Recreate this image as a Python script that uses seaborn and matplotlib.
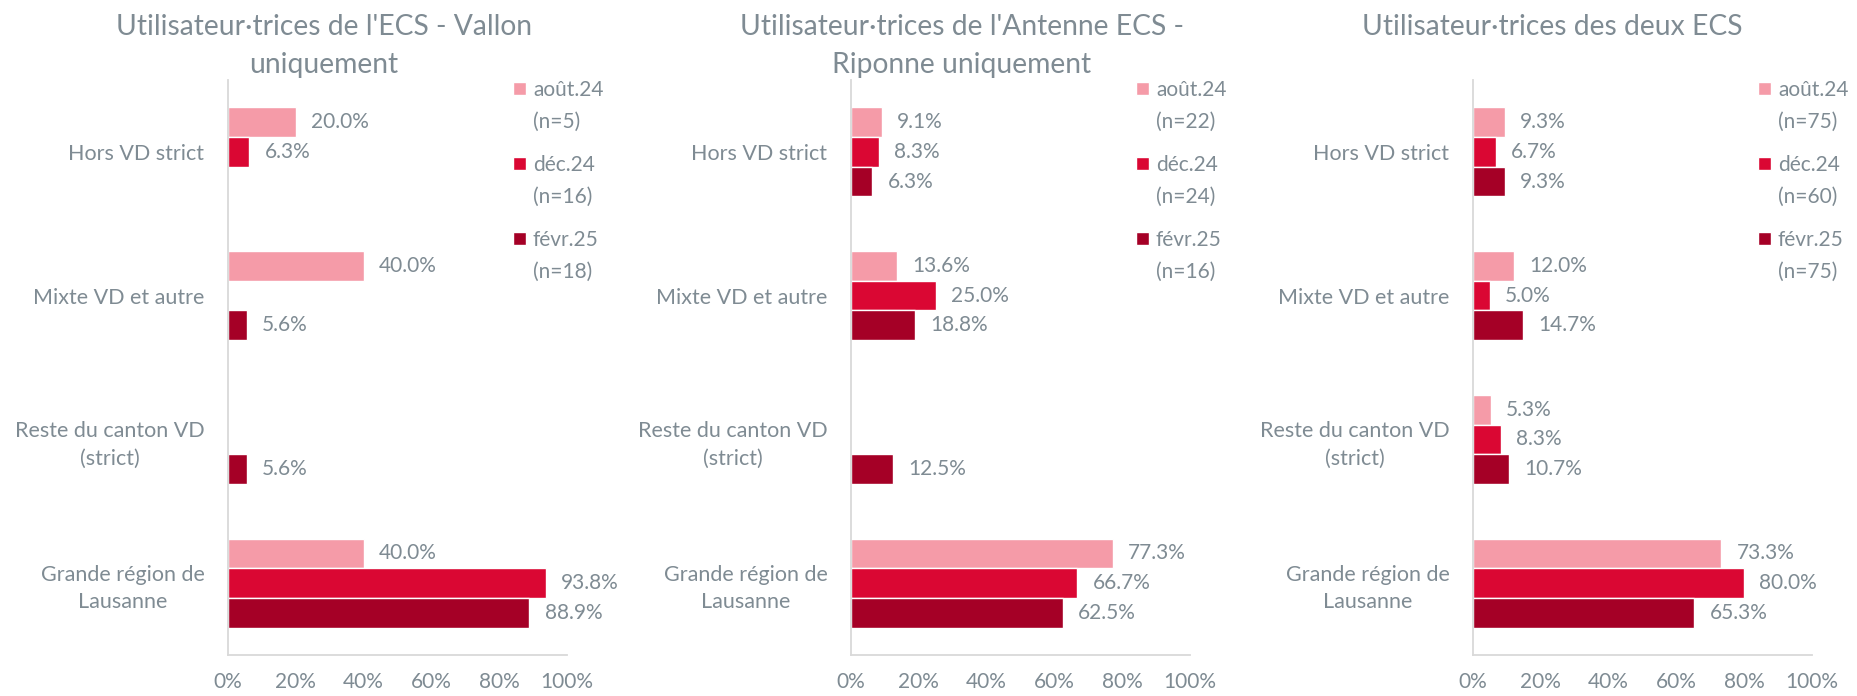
import matplotlib
matplotlib.use("Agg")
import matplotlib.pyplot as plt
import matplotlib.patches as mpatches
from matplotlib.legend_handler import HandlerPatch
from matplotlib.ticker import PercentFormatter
import pandas as pd
import seaborn as sns

categories = ["Hors VD strict", "Mixte VD et autre",
              "Reste du canton VD\n(strict)", "Grande région de\nLausanne"]
periods = ["août.24", "déc.24", "févr.25"]
colors = ["#F59BA8", "#DA0733", "#A50026"]

titles = ["Utilisateur·trices de l'ECS - Vallon\nuniquement",
          "Utilisateur·trices de l'Antenne ECS -\nRiponne uniquement",
          "Utilisateur·trices des deux ECS"]

# share per category (None = no bar), one list per period
vallon_aout = [0.200, 0.400, None, 0.400]
vallon_dec = [0.063, None, None, 0.938]
vallon_fevr = [None, 0.056, 0.056, 0.889]
vallon_n = [5, 16, 18]

riponne_aout = [0.091, 0.136, None, 0.773]
riponne_dec = [0.083, 0.250, None, 0.667]
riponne_fevr = [0.063, 0.188, 0.125, 0.625]
riponne_n = [22, 24, 16]

deux_aout = [0.093, 0.120, 0.053, 0.733]
deux_dec = [0.067, 0.050, 0.083, 0.800]
deux_fevr = [0.093, 0.147, 0.107, 0.653]
deux_n = [75, 60, 75]

panels = [
    (titles[0], [vallon_aout, vallon_dec, vallon_fevr], vallon_n),
    (titles[1], [riponne_aout, riponne_dec, riponne_fevr], riponne_n),
    (titles[2], [deux_aout, deux_dec, deux_fevr], deux_n),
]

GREY = "#7F8B93"
AXIS = "#D9D9D9"
FS = 15
SQ_LIFT = 0.9


def long_frame(series):
    rows = []
    for period, values in zip(periods, series):
        for cat, v in zip(categories, values):
            if v is not None:
                rows.append({"cat": cat, "period": period, "share": v})
    return pd.DataFrame(rows)


def square_on_first_line(legend, orig_handle, xdescent, ydescent, width, height, fontsize):
    # put the colour square next to the first line of a two-line label
    side = 0.62 * fontsize
    return mpatches.Rectangle((-xdescent, -ydescent + SQ_LIFT * fontsize), side, side)


sns.set_style("white")
plt.rcParams["font.family"] = ["Lato", "DejaVu Sans"]

fig = plt.figure(figsize=(18.58, 6.96), dpi=100)

lefts = [228, 851, 1473]
title_x = [324, 962, 1552]
W, H = 1858, 696

for i, (title, series, ns) in enumerate(panels):
    ax = fig.add_axes([lefts[i] / W, 1 - 655 / H, 339 / W, 575 / H])
    df = long_frame(series)
    sns.barplot(data=df, x="share", y="cat", hue="period", order=categories,
                hue_order=periods, palette=colors, width=0.62, gap=0,
                saturation=1, orient="h", ax=ax, legend=False)

    for cont in ax.containers:
        ax.bar_label(cont, fmt="{:.1%}", padding=11, color=GREY, fontsize=FS)

    ax.set_xlim(0, 1)
    ax.set_ylim(3.5, -0.5)
    ax.set_xticks([0, 0.2, 0.4, 0.6, 0.8, 1.0])
    ax.xaxis.set_major_formatter(PercentFormatter(1.0, decimals=0))
    ax.set_yticks(range(len(categories)))
    ax.set_yticklabels(categories)
    ax.set_yticks([-0.5, 0.5, 1.5, 2.5, 3.5], minor=True)
    ax.set_xlabel("")
    ax.set_ylabel("")

    for side in ["top", "right"]:
        ax.spines[side].set_visible(False)
    for side in ["left", "bottom"]:
        ax.spines[side].set_color(AXIS)
        ax.spines[side].set_linewidth(1.3)

    ax.tick_params(axis="x", colors=AXIS, labelcolor=GREY, labelsize=FS,
                   length=5, width=1.3, pad=7, direction="out")
    ax.tick_params(axis="y", which="major", length=0, pad=17,
                   labelcolor=GREY, labelsize=15.5)
    ax.tick_params(axis="y", which="minor", length=5, width=1.3,
                   colors=AXIS, direction="out")
    for lab in ax.get_yticklabels():
        lab.set_multialignment("center")
        lab.set_linespacing(1.45)

    handles = [mpatches.Patch(facecolor=c) for c in colors]
    labels = [f"{p}\n(n={n})" for p, n in zip(periods, ns)]
    leg = ax.legend(handles, labels, loc="upper left", bbox_to_anchor=(0.84, 1.0),
                    frameon=False, fontsize=FS, handlelength=0.62, handleheight=0.62,
                    handletextpad=0.35, labelspacing=1.1, borderpad=0, borderaxespad=0,
                    handler_map={mpatches.Patch: HandlerPatch(patch_func=square_on_first_line)})
    for t in leg.get_texts():
        t.set_color(GREY)
        t.set_linespacing(1.75)

    fig.text(title_x[i] / W, 1 - 14 / H, title, ha="center", va="top",
             fontsize=20.3, color=GREY, linespacing=1.55)

fig.savefig("out.png", dpi=100)
